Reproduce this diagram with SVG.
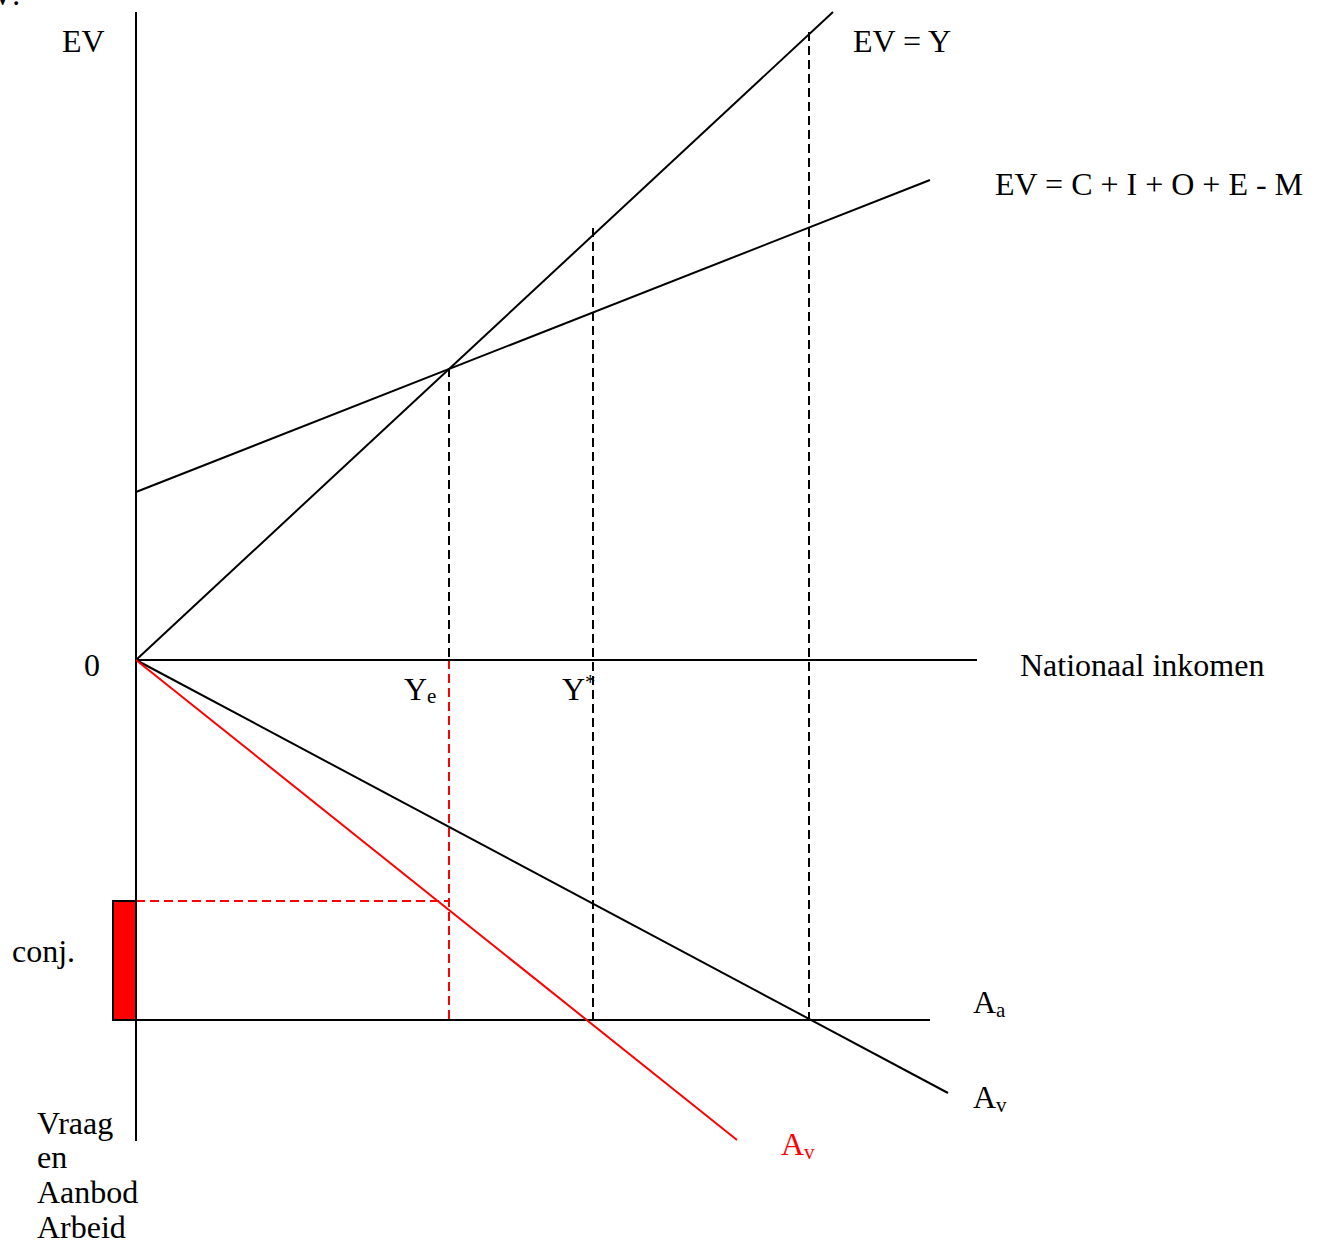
<svg xmlns="http://www.w3.org/2000/svg" width="1324" height="1247" viewBox="0 0 1324 1247">
<style>
  text { font-family: "Liberation Serif", Tinos, "DejaVu Serif", "Times New Roman", serif; font-size: 32px; fill: #000; }
  .red { fill: #ff0000; }
  .sub { font-size: 21px; }
  .solid { stroke: #000; stroke-width: 2; fill: none; }
  .redline { stroke: #ff0000; stroke-width: 2; fill: none; }
  .dash { stroke: #000; stroke-width: 2; stroke-dasharray: 9 5; fill: none; }
  .rdash { stroke: #ff0000; stroke-width: 2; stroke-dasharray: 9 5; fill: none; }
</style>
<rect width="1324" height="1247" fill="#fff"/>
<g font-family="Liberation Serif, Tinos, DejaVu Serif, serif">
<text x="-9" y="5">V:</text>
<g id="connectors">
  <line class="dash" x1="449" y1="368" x2="449" y2="660"/>
  <line class="rdash" x1="449" y1="660" x2="449" y2="1020"/>
  <line class="rdash" x1="136" y1="901" x2="449" y2="901"/>
  <line class="dash" x1="593" y1="228" x2="593" y2="1020"/>
  <line class="dash" x1="809" y1="32" x2="809" y2="1020"/>
</g>
<g id="red-bar">
  <rect x="113" y="901" width="23" height="119" fill="#ff0000" stroke="#000" stroke-width="2"/>
</g>
<g id="axes">
  <line class="solid" x1="136" y1="12" x2="136" y2="1141"/>
  <line class="solid" x1="136" y1="660" x2="977" y2="660"/>
</g>
<g id="ev-y">
  <line class="solid" x1="136" y1="660" x2="833" y2="12"/>
  <text x="853" y="52">EV = Y</text>
</g>
<g id="ev-sum">
  <line class="solid" x1="136" y1="492" x2="930" y2="180"/>
  <text x="995" y="195">EV = C + I + O + E - M</text>
</g>
<g id="aa">
  <line class="solid" x1="113" y1="1020" x2="930" y2="1020"/>
  <text x="973" y="1013">A<tspan class="sub" dy="4">a</tspan></text>
</g>
<g id="av-black">
  <line class="solid" x1="136" y1="660" x2="948" y2="1093"/>
  <text x="973" y="1108">A<tspan class="sub" dy="4">v</tspan></text>
</g>
<g id="av-red">
  <line class="redline" x1="136" y1="660" x2="737" y2="1140"/>
  <text class="red" x="781" y="1155">A<tspan class="sub" dy="4">v</tspan></text>
</g>
<g id="labels">
  <text x="62" y="52">EV</text>
  <text x="84" y="676">0</text>
  <text x="1020" y="676">Nationaal inkomen</text>
  <text x="404" y="700">Y<tspan class="sub" dy="3">e</tspan></text>
  <text x="562" y="700">Y<tspan class="sub" dy="-11">*</tspan></text>
  <text x="12" y="962">conj.</text>
  <text x="37" y="1134">Vraag</text>
  <text x="37" y="1168">en</text>
  <text x="37" y="1203">Aanbod</text>
  <text x="37" y="1238">Arbeid</text>
</g>
</g>
</svg>
